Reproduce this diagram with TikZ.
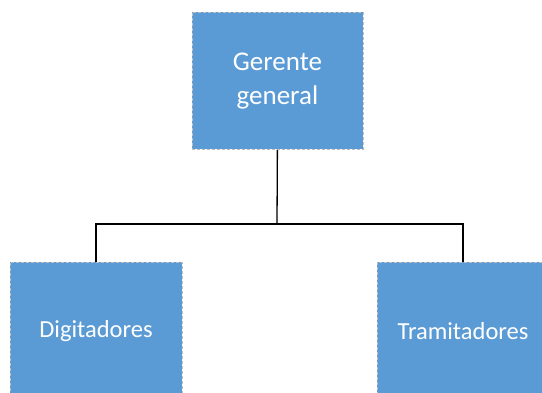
\documentclass[tikz,border=0pt]{standalone}
\usepackage{fontspec}
\setmainfont{Carlito}
\definecolor{boxblue}{HTML}{5B9BD5}
\definecolor{boxedge}{HTML}{BFBFBF}
\begin{document}
\begin{tikzpicture}[x=1pt,y=-1pt,
  orgbox/.style={fill=boxblue, draw=boxedge, densely dashed, line width=0.8pt, text=white, align=center, anchor=north west, inner sep=0pt},
  boxtext/.style={text=white, font=\fontsize{24.5}{34}\selectfont, inner sep=0pt},
  conn/.style={draw=black, line width=1.3pt}]
\useasboundingbox (0,0) rectangle (542,393);
\node[orgbox, font=\fontsize{27}{34}\selectfont, minimum width=171pt, minimum height=137pt] (gm) at (191.5,12) {Gerente\\general};
\begin{scope}
\clip (0,0) rectangle (542,393);
\node[orgbox, minimum width=172pt, minimum height=150pt] (dig) at (10,262) {};
\node[orgbox, minimum width=175pt, minimum height=150pt] (tra) at (377,262) {};
\end{scope}
\node[boxtext] (digt) at (96,331) {Digitadores};
\node[boxtext] (trat) at (463,331) {Tramitadores};
\coordinate (mid) at (277,224);
\draw[conn] (gm.south) -- (mid);
\draw[conn] (mid) -| (dig.north -| 96,0);
\draw[conn] (mid) -| (tra.north -| 463,0);
\end{tikzpicture}
\end{document}
